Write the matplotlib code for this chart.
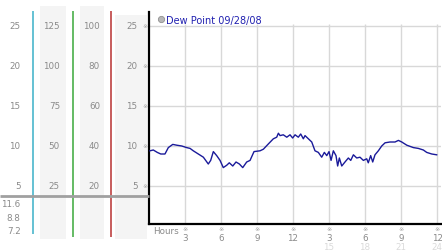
import matplotlib
matplotlib.use('Agg')
import matplotlib.pyplot as plt
from matplotlib.patches import Rectangle
from matplotlib.transforms import blended_transform_factory

# ---- data ----
hours = [0.08, 0.36, 0.69, 0.98, 1.33, 1.61, 1.98, 2.31, 2.73, 3.14, 3.42, 3.69,
         4.11, 4.53, 4.94, 5.14, 5.36, 5.64, 5.92, 6.19, 6.48, 6.69, 6.98, 7.25,
         7.53, 7.81, 8.14, 8.42, 8.75, 9.25, 9.53, 9.94, 10.36, 10.64, 10.78, 10.92,
         11.19, 11.48, 11.75, 11.97, 12.17, 12.44, 12.64, 12.86, 13.0, 13.28, 13.56,
         13.83, 14.11, 14.39, 14.61, 14.81, 15.0, 15.17, 15.36, 15.58, 15.72, 15.86,
         16.06, 16.33, 16.61, 16.81, 17.03, 17.31, 17.58, 17.86, 18.14, 18.27, 18.47,
         18.64, 18.83, 19.11, 19.39, 19.67, 20.08, 20.5, 20.78, 21.06, 21.48, 22.03,
         22.44, 22.86, 23.14, 23.56, 23.97]
dew_point = [9.4, 9.5, 9.2, 9.0, 9.0, 9.8, 10.2, 10.1, 10.0, 9.8, 9.7, 9.4,
             9.0, 8.6, 7.75, 8.2, 9.3, 8.8, 8.2, 7.3, 7.6, 7.9, 7.5, 8.0,
             7.75, 7.3, 8.0, 8.2, 9.3, 9.4, 9.6, 10.25, 10.9, 11.1, 11.6, 11.3,
             11.4, 11.1, 11.4, 11.0, 11.4, 11.1, 11.5, 10.9, 11.3, 10.9, 10.5,
             9.4, 9.2, 8.6, 9.2, 8.8, 9.3, 8.2, 9.4, 8.8, 7.5, 8.5,
             7.5, 8.0, 8.5, 8.2, 8.9, 8.5, 8.6, 8.2, 8.4, 7.9, 8.8,
             8.0, 8.9, 9.4, 10.0, 10.4, 10.5, 10.5, 10.7, 10.5, 10.1, 9.8,
             9.7, 9.5, 9.2, 9.0, 8.9]

y_ticks = [25, 20, 15, 10, 5]
scale1_labels = ['25', '20', '15', '10', '5']
scale2_labels = ['125', '100', '75', '50', '25']
scale3_labels = ['100', '80', '60', '40', '20']
scale4_labels = ['25', '20', '15', '10', '5']
readouts = ['11.6', '8.8', '7.2']
x_ticks = [3, 6, 9, 12, 15, 18, 21, 24]
x_labels = ['3', '6', '9', '12', '3', '6', '9', '12']
x_ticks2 = [15, 18, 21, 24]
x_labels2 = ['15', '18', '21', '24']
legend_label = 'Dew Point 09/28/08'

W, H = 442, 253
fig = plt.figure(figsize=(W / 100, H / 100), dpi=100)
fig.patch.set_facecolor('white')

ax = fig.add_axes([149 / W, (H - 225) / H, (441 - 149) / W, (225 - 13) / H])
ax.set_xlim(0, 24.33)
ax.set_ylim(0.25, 26.75)
ax.set_facecolor('white')
for s in ['top', 'right']:
    ax.spines[s].set_visible(False)
for s in ['left', 'bottom']:
    ax.spines[s].set_color('black')
    ax.spines[s].set_linewidth(1.6)
ax.set_xticks([])
ax.set_yticks([])

bg = fig.add_axes([0, 0, 1, 1])
bg.set_xlim(0, W)
bg.set_ylim(H, 0)
bg.axis('off')
bg.set_zorder(5)

grid_c = '#d8d8d8'
ax.hlines(y_ticks, 0, 24.33, color=grid_c, lw=1, zorder=1)
ax.vlines(x_ticks, 0.25, 25.2, color=grid_c, lw=1, zorder=1)
ax.plot(hours, dew_point, color='#1a1a9a', lw=1.0, zorder=3, clip_on=False)

# left panels
for (x0, x1, y0, y1) in [(40, 66, 7, 240), (80, 104, 7, 240), (115, 147, 16, 240)]:
    bg.add_patch(Rectangle((x0, y0), x1 - x0, y1 - y0, facecolor='#f4f4f4',
                           edgecolor='none', zorder=0))
bg.vlines([33.3], 12, 235, color='#3ab0c8', lw=1.1, zorder=2)
bg.vlines([72.7], 12, 238, color='#3aa83a', lw=1.1, zorder=2)
bg.vlines([111.3], 12, 238, color='#b83030', lw=1.1, zorder=2)
bg.hlines([197.3], 0, 149, color='#a0a0a0', lw=2, zorder=3)

lab_c = '#8a8a8a'
fs = 6.3
ty = blended_transform_factory(bg.transData, ax.transData)
for labels, xr in [(scale1_labels, 20.5), (scale2_labels, 60),
                   (scale3_labels, 100), (scale4_labels, 137.5)]:
    for v, t in zip(y_ticks, labels):
        bg.text(xr, v, t, transform=ty, ha='right', va='center',
                fontsize=fs, color=lab_c, zorder=4)
for v in y_ticks:
    bg.text(145.5, v, '※', transform=ty, ha='center', va='center',
            fontsize=4.5, color='#a0a0a0', zorder=4)
for yy, t in zip([204.5, 218.5, 232], readouts):
    bg.text(20.5, yy, t, ha='right', va='center', fontsize=fs, color=lab_c, zorder=4)

# x tick labels
tx = blended_transform_factory(ax.transData, bg.transData)
for h, t in zip(x_ticks, x_labels):
    bg.text(h, 229.5, '※', transform=tx, ha='center', va='center',
            fontsize=4.5, color='#a0a0a0')
    bg.text(h, 238.5, t, transform=tx, ha='center', va='center',
            fontsize=fs, color=lab_c)
for h, t in zip(x_ticks2, x_labels2):
    bg.text(h, 247.5, t, transform=tx, ha='center', va='center',
            fontsize=fs, color='#dadada')
bg.text(153, 232, 'Hours', ha='left', va='center', fontsize=fs, color=lab_c)

# legend
bg.plot([160.5], [20], marker='o', ms=4.5, color='#b8b8b8', mec='#909090', mew=0.6)
bg.text(165.5, 20.5, legend_label, ha='left', va='center', fontsize=7, color='#2020b0')

fig.savefig('out.png', dpi=100)
